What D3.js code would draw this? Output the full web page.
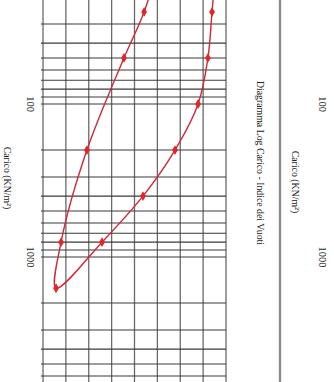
<!DOCTYPE html>
<html>
<head>
<meta charset="utf-8">
<script src="https://cdn.jsdelivr.net/npm/d3@7"></script>
<style>
  html, body { margin: 0; padding: 0; background: #fff; }
  svg { display: block; }
  text { font-family: "Liberation Serif", "DejaVu Serif", serif; fill: #222; }
</style>
</head>
<body>
<svg id="chart" width="334" height="382"></svg>
<script>
// Oedometer test: load (kN/m²) on a log axis, void ratio on a linear axis.
// The sheet is laid out rotated a quarter turn: load grows downward, void ratio grows to the right.

// Load steps in test order (loading, then unloading)
const loads = [12.5, 25, 50, 100, 200, 400, 800, 1600, 800, 200, 50, 25, 12.5];
// Void ratio measured at the end of each step
const voidRatios = [0.6356, 0.6339, 0.6321, 0.6278, 0.6177, 0.6037, 0.5858, 0.5657,
                    0.5679, 0.5792, 0.5954, 0.6042, 0.6103];

// Log-paper rulings for the load axis
const loadGrid = [20, 30, 40, 50, 60, 70, 80, 90, 100,
                  200, 300, 400, 500, 600, 700, 800, 900, 1000,
                  2000, 3000, 4000, 5000, 6000, 7000];
// Labelled decades
const loadTickLabels = [100, 1000];
// Void ratio rulings
const voidGrid = [0.56, 0.57, 0.58, 0.59, 0.60, 0.61, 0.62, 0.63, 0.64];

const axisTitle = "Carico (KN/m²)";
const chartTitle = "Diagramma Log Carico - Indice dei Vuoti";

const W = 334, H = 382;
const svg = d3.select("#chart");

const y = d3.scaleLog().domain([100, 1000]).range([104, 257]);
const x = d3.scaleLinear().domain([0.56, 0.64]).range([43, 226]);

const gridG = svg.append("g");

// vertical rulings (void ratio)
gridG.selectAll("line.v").data(voidGrid).join("line")
  .attr("class", "v")
  .attr("x1", d => x(d)).attr("x2", d => x(d))
  .attr("y1", 0).attr("y2", H)
  .attr("stroke", "#6a6a6a").attr("stroke-width", 1.3);

// horizontal rulings (load, log scale)
gridG.selectAll("line.h").data(loadGrid).join("line")
  .attr("class", "h")
  .attr("x1", x(0.56) - 2).attr("x2", x(0.64))
  .attr("y1", d => y(d)).attr("y2", d => y(d))
  .attr("stroke", "#3a3a3a").attr("stroke-width", 1.1);

// compression curve
const pts = loads.map((l, i) => [x(voidRatios[i]), y(l)]);
const line = d3.line().curve(d3.curveCatmullRom.alpha(0.5));
svg.append("path")
  .attr("d", line(pts))
  .attr("fill", "none")
  .attr("stroke", "#d0283a")
  .attr("stroke-width", 1.4);

// diamond markers
const diamond = d3.symbol().type(d3.symbolDiamond).size(28);
svg.selectAll("path.mk").data(pts).join("path")
  .attr("class", "mk")
  .attr("d", diamond)
  .attr("transform", d => `translate(${d[0]},${d[1]})`)
  .attr("fill", "#e0262a");

// rotated text helper
function vtext(cx, cy, str, size) {
  svg.append("text")
    .attr("transform", `translate(${cx},${cy}) rotate(90)`)
    .attr("text-anchor", "middle")
    .attr("dominant-baseline", "central")
    .attr("font-size", size)
    .text(str);
}

// load axis of this chart (left side)
loadTickLabels.forEach(v => vtext(30, y(v), String(v), 10.5));
vtext(7, 178, axisTitle, 9.8);

// chart title
vtext(260, 163, chartTitle, 9.8);

// sheet separator
svg.append("line")
  .attr("x1", 280).attr("x2", 280).attr("y1", 0).attr("y2", H)
  .attr("stroke", "#8c8c8c").attr("stroke-width", 2.4);

// load axis of the next chart on the sheet
vtext(295, 182, axisTitle, 9.8);
loadTickLabels.forEach(v => vtext(322, y(v), String(v), 10.5));
</script>
</body>
</html>
